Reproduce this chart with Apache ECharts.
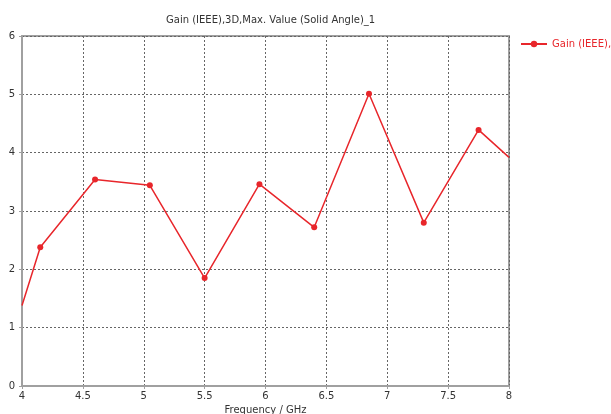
<!DOCTYPE html>
<html>
<head>
<meta charset="utf-8">
<script src="https://cdn.jsdelivr.net/npm/echarts@6/dist/echarts.min.js"></script>
<style>html,body{margin:0;padding:0;background:#fff;}#c{width:611px;height:414px;}</style>
</head>
<body>
<div id="c"></div>
<script>
var titleText = 'Gain (IEEE),3D,Max. Value (Solid Angle)_1';
var seriesName = 'Gain (IEEE),3D,Max. Value (Solid Angle)_1';
var xAxisName = 'Frequency / GHz';
var freq = [4.0, 4.15, 4.6, 5.05, 5.5, 5.95, 6.4, 6.85, 7.3, 7.75, 8.0];
var gain = [1.38, 2.38, 3.54, 3.44, 1.85, 3.46, 2.72, 5.01, 2.80, 4.39, 3.92];
var markerShown = [false, true, true, true, true, true, true, true, true, true, false];

var chart = echarts.init(document.getElementById('c'), null, {renderer: 'canvas'});
var data = freq.map(function (f, i) {
  return markerShown[i] ? [f, gain[i]] : {value: [f, gain[i]], symbol: 'none'};
});
var font = 'Tahoma, "DejaVu Sans", sans-serif';
chart.setOption({
  animation: false,
  title: {
    text: titleText, left: 161, top: 10,
    textStyle: {fontSize: 10, fontWeight: 'normal', color: '#333', fontFamily: font}
  },
  legend: {
    left: 515, top: 34, itemWidth: 26, itemHeight: 8, itemGap: 4,
    textStyle: {color: '#e8262b', fontSize: 10, fontFamily: font},
    data: [{name: seriesName}]
  },
  grid: {left: 22, right: 102, top: 36, bottom: 28, show: true, borderColor: '#a0a0a0', borderWidth: 2,
          containLabel: false, outerBoundsMode: 'none'},
  xAxis: {
    type: 'value', min: 4, max: 8, interval: 0.5,
    name: xAxisName, nameLocation: 'middle', nameGap: 16,
    nameTextStyle: {color: '#333', fontSize: 10, fontFamily: font},
    axisLine: {show: true, lineStyle: {color: '#a0a0a0', width: 2}},
    axisTick: {show: true, length: 3, lineStyle: {color: '#a0a0a0'}},
    axisLabel: {color: '#333', fontSize: 10, fontFamily: font, margin: 5},
    splitLine: {show: true, lineStyle: {color: '#666', type: [2, 2], width: 1}}
  },
  yAxis: {
    type: 'value', min: 0, max: 6, interval: 1,
    axisLine: {show: true, lineStyle: {color: '#a0a0a0', width: 2}},
    axisTick: {show: true, length: 3, lineStyle: {color: '#a0a0a0'}},
    axisLabel: {color: '#333', fontSize: 10, fontFamily: font, margin: 7},
    splitLine: {show: true, lineStyle: {color: '#666', type: [2, 2], width: 1}}
  },
  series: [{
    name: seriesName, type: 'line', data: data,
    symbol: 'circle', symbolSize: 6, showAllSymbol: true,
    lineStyle: {color: '#e8262b', width: 1.5},
    itemStyle: {color: '#e8262b'},
    clip: true
  }]
});
</script>
</body>
</html>
